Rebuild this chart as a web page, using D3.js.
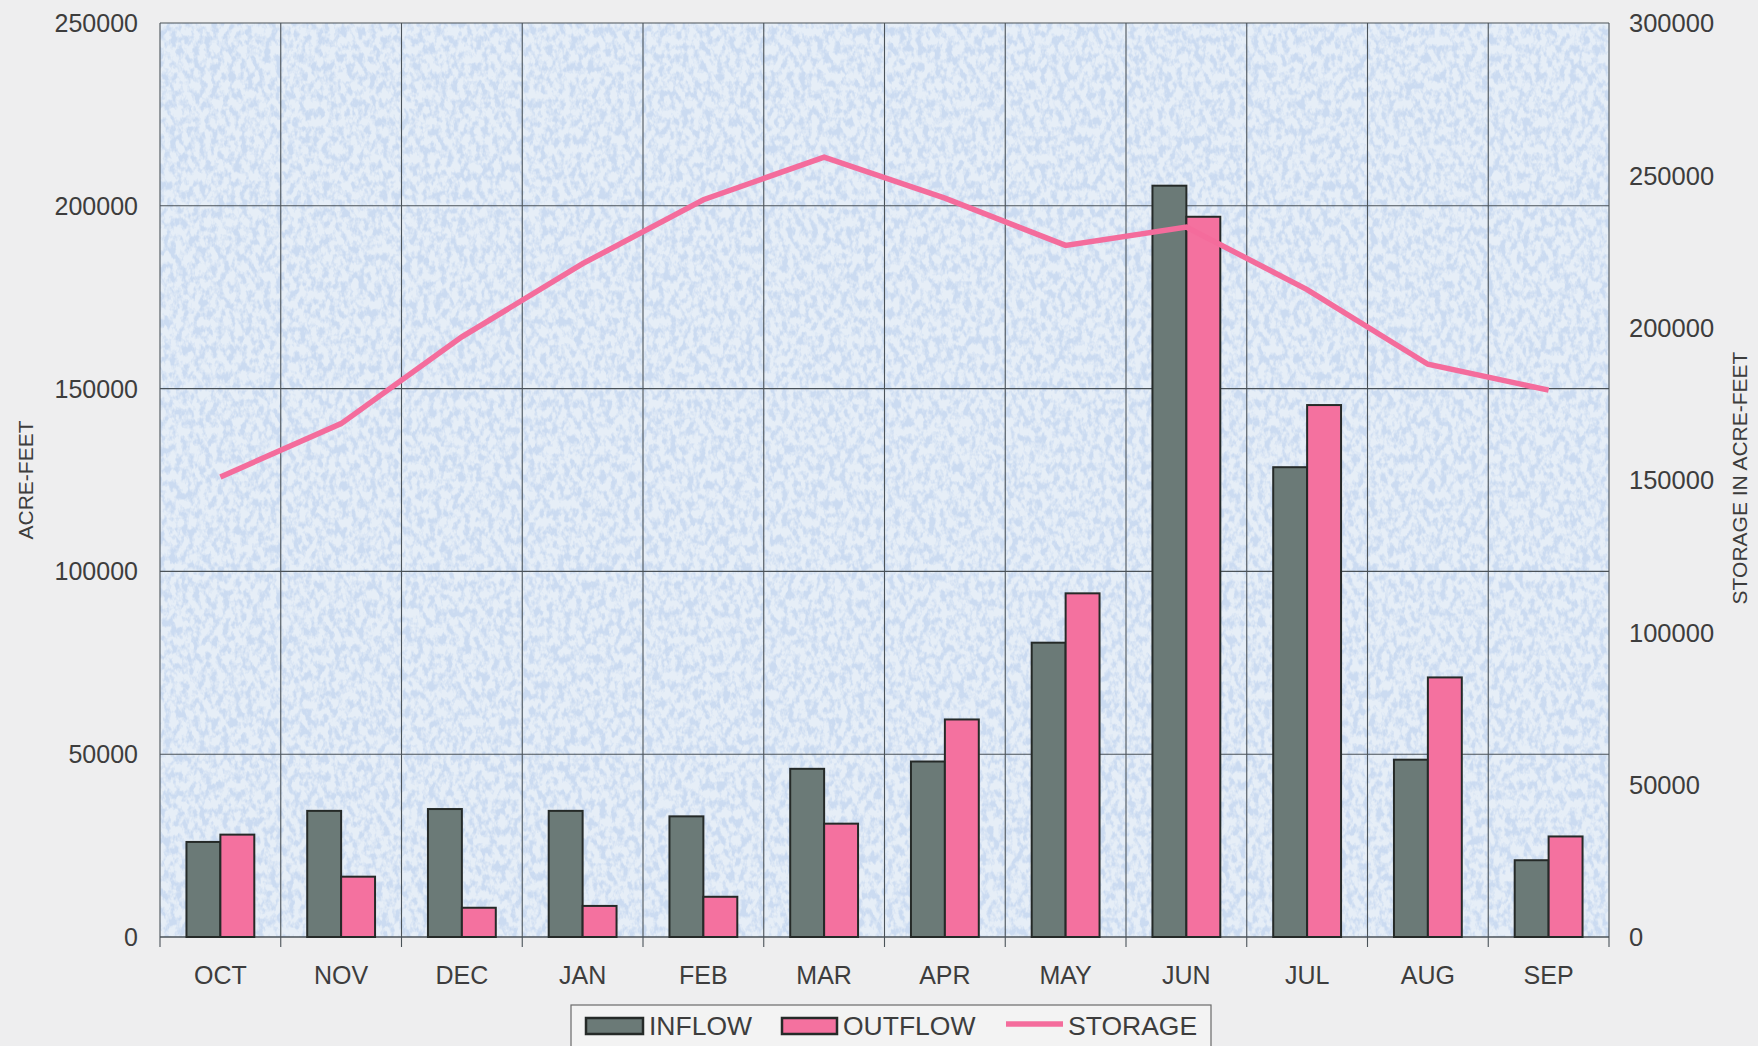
<!DOCTYPE html>
<html>
<head>
<meta charset="utf-8">
<script src="https://cdn.jsdelivr.net/npm/d3@7"></script>
<style>
  html, body { margin: 0; padding: 0; background: #eeeeef; }
  svg { display: block; }
  text { font-family: "Liberation Sans", Arial, sans-serif; fill: #3d3d3d; }
</style>
</head>
<body>
<svg id="chart" width="1758" height="1046"></svg>
<script>
// Monthly reservoir flows (acre-feet) and end-of-month storage
const months   = ["OCT","NOV","DEC","JAN","FEB","MAR","APR","MAY","JUN","JUL","AUG","SEP"];
const inflow   = [26000, 34500, 35000, 34500, 33000, 46000, 48000, 80500, 205500, 128500, 48500, 21000];
const outflow  = [28000, 16500,  8000,  8500, 11000, 31000, 59500, 94000, 197000, 145500, 71000, 27500];
const storage  = [151000, 168500, 197000, 221000, 242000, 256000, 242500, 227000, 233000, 212500, 188000, 179500];
const leftTicks  = [0, 50000, 100000, 150000, 200000, 250000];
const rightTicks = [0, 50000, 100000, 150000, 200000, 250000, 300000];
const seriesNames = ["INFLOW", "OUTFLOW", "STORAGE"];

const plot = { left: 160, right: 1609, top: 23, bottom: 937 };

const svg = d3.select("#chart");

// speckled blue fill for the plotting area
const defs = svg.append("defs");
const f = defs.append("filter").attr("id", "speckle")
  .attr("x", 0).attr("y", 0).attr("width", "100%").attr("height", "100%");
f.append("feTurbulence").attr("type", "fractalNoise")
  .attr("baseFrequency", "0.17 0.11").attr("numOctaves", 3).attr("seed", 7).attr("result", "n");
f.append("feColorMatrix").attr("in", "n").attr("type", "matrix")
  .attr("values", "0 0 0 0 0.60  0 0 0 0 0.71  0 0 0 0 0.88  4.2 0 0 0 -1.75");

const x = d3.scaleBand().domain(months).range([plot.left, plot.right]).padding(0);
const sub = d3.scaleBand().domain(["in", "out"]).range([0, x.bandwidth()])
  .paddingInner(0).paddingOuter(0.78);
const yL = d3.scaleLinear().domain([0, 250000]).range([plot.bottom, plot.top]);
const yR = d3.scaleLinear().domain([0, 300000]).range([plot.bottom, plot.top]);

// plot background
svg.append("rect")
  .attr("x", plot.left).attr("y", plot.top)
  .attr("width", plot.right - plot.left).attr("height", plot.bottom - plot.top)
  .attr("fill", "#e6eef7");
svg.append("rect")
  .attr("x", plot.left).attr("y", plot.top)
  .attr("width", plot.right - plot.left).attr("height", plot.bottom - plot.top)
  .attr("fill", "#fff")
  .attr("filter", "url(#speckle)");

// gridlines
const grid = svg.append("g").attr("stroke", "#4a5258").attr("stroke-width", 1.1);
grid.selectAll("line.h").data(leftTicks.filter(d => d > 0)).join("line")
  .attr("x1", plot.left).attr("x2", plot.right)
  .attr("y1", d => yL(d)).attr("y2", d => yL(d));
const bounds = months.map(m => x(m)).concat([plot.right]);
grid.selectAll("line.v").data(bounds).join("line")
  .attr("x1", d => d).attr("x2", d => d)
  .attr("y1", plot.top).attr("y2", plot.bottom + 10);
svg.append("line").attr("x1", plot.left).attr("x2", plot.right)
  .attr("y1", plot.bottom).attr("y2", plot.bottom)
  .attr("stroke", "#4a5258").attr("stroke-width", 1.3);

// bars
const barG = svg.append("g");
months.forEach((m, i) => {
  barG.append("rect")
    .attr("x", x(m) + sub("in")).attr("y", yL(inflow[i]))
    .attr("width", sub.bandwidth()).attr("height", yL(0) - yL(inflow[i]))
    .attr("fill", "#6b7a77").attr("stroke", "#252a28").attr("stroke-width", 2);
  barG.append("rect")
    .attr("x", x(m) + sub("out")).attr("y", yL(outflow[i]))
    .attr("width", sub.bandwidth()).attr("height", yL(0) - yL(outflow[i]))
    .attr("fill", "#f4719f").attr("stroke", "#252a28").attr("stroke-width", 2);
});

// storage line on the secondary axis
const line = d3.line()
  .x((d, i) => x(months[i]) + x.bandwidth() / 2)
  .y(d => yR(d));
svg.append("path").datum(storage)
  .attr("d", line).attr("fill", "none")
  .attr("stroke", "#f46c9c").attr("stroke-width", 5.5).attr("stroke-linejoin", "miter");

// axis labels
svg.append("g").selectAll("text").data(leftTicks).join("text")
  .attr("x", 138).attr("y", d => yL(d)).attr("dy", "0.36em")
  .attr("text-anchor", "end").attr("font-size", 25).text(d => d);
svg.append("g").selectAll("text").data(rightTicks).join("text")
  .attr("x", 1629).attr("y", d => yR(d)).attr("dy", "0.36em")
  .attr("text-anchor", "start").attr("font-size", 25.5).text(d => d);
svg.append("g").selectAll("text").data(months).join("text")
  .attr("x", d => x(d) + x.bandwidth() / 2).attr("y", 984)
  .attr("text-anchor", "middle").attr("font-size", 25).text(d => d);

svg.append("text")
  .attr("transform", "translate(33,480) rotate(-90)")
  .attr("text-anchor", "middle").attr("font-size", 21).text("ACRE-FEET");
svg.append("text")
  .attr("transform", "translate(1747,478) rotate(-90)")
  .attr("text-anchor", "middle").attr("font-size", 21).text("STORAGE IN ACRE-FEET");

// legend
const lg = svg.append("g");
lg.append("rect").attr("x", 571).attr("y", 1005).attr("width", 640).attr("height", 70)
  .attr("fill", "#f3f3f3").attr("stroke", "#6a6a6a").attr("stroke-width", 1.2);
lg.append("rect").attr("x", 586).attr("y", 1018).attr("width", 57).attr("height", 16)
  .attr("fill", "#6b7a77").attr("stroke", "#252a28").attr("stroke-width", 2.5);
lg.append("text").attr("x", 649).attr("y", 1035).attr("font-size", 26.5).text(seriesNames[0]);
lg.append("rect").attr("x", 782).attr("y", 1018).attr("width", 55).attr("height", 16)
  .attr("fill", "#f4719f").attr("stroke", "#252a28").attr("stroke-width", 2.5);
lg.append("text").attr("x", 843).attr("y", 1035).attr("font-size", 26.5).text(seriesNames[1]);
lg.append("line").attr("x1", 1006).attr("x2", 1063).attr("y1", 1024).attr("y2", 1024)
  .attr("stroke", "#f46c9c").attr("stroke-width", 5.5);
lg.append("text").attr("x", 1068).attr("y", 1035).attr("font-size", 26.5).text(seriesNames[2]);
</script>
</body>
</html>
